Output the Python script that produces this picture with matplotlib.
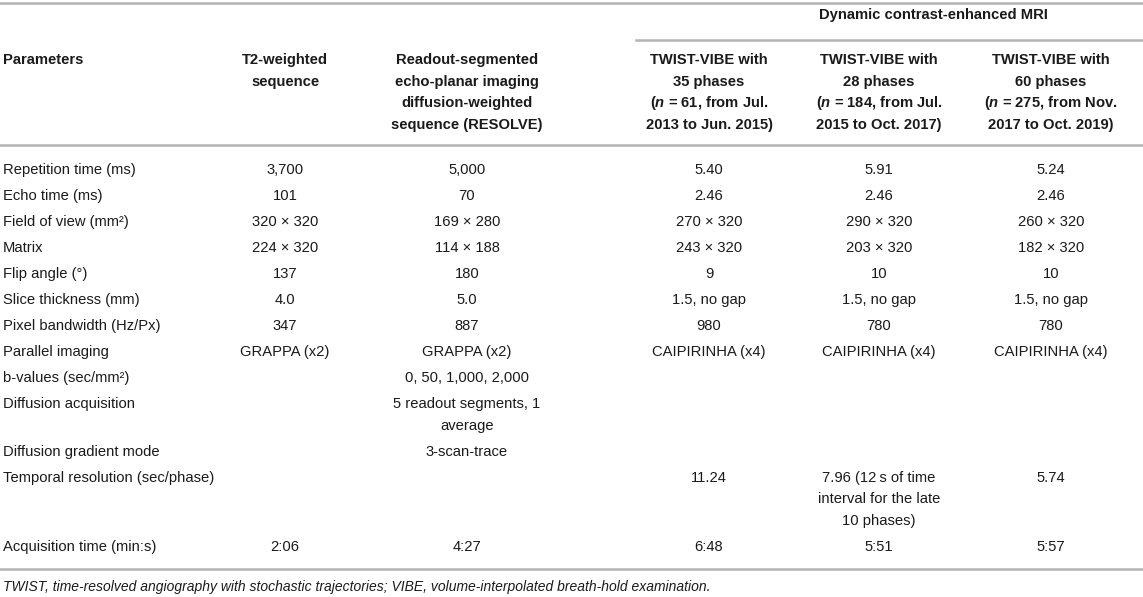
import matplotlib
matplotlib.use("Agg")
from matplotlib import pyplot as plt

plt.rcParams['font.family'] = ['Liberation Sans', 'DejaVu Sans']
plt.rcParams['mathtext.fontset'] = 'custom'
plt.rcParams['mathtext.rm'] = 'Liberation Sans'
plt.rcParams['mathtext.bfit'] = 'Liberation Sans:bold:italic'
plt.rcParams['mathtext.it'] = 'Liberation Sans:italic'

# table content
group_title = "Dynamic contrast-enhanced MRI"

col_headers = [
    "Parameters",
    "T2-weighted\nsequence",
    "Readout-segmented\necho-planar imaging\ndiffusion-weighted\nsequence (RESOLVE)",
    "TWIST-VIBE with\n35 phases\n($\\mathbfit{n}$ = 61, from Jul.\n2013 to Jun. 2015)",
    "TWIST-VIBE with\n28 phases\n($\\mathbfit{n}$ = 184, from Jul.\n2015 to Oct. 2017)",
    "TWIST-VIBE with\n60 phases\n($\\mathbfit{n}$ = 275, from Nov.\n2017 to Oct. 2019)",
]

params = [
    "Repetition time (ms)",
    "Echo time (ms)",
    "Field of view (mm²)",
    "Matrix",
    "Flip angle (°)",
    "Slice thickness (mm)",
    "Pixel bandwidth (Hz/Px)",
    "Parallel imaging",
    "b-values (sec/mm²)",
    "Diffusion acquisition",
    "Diffusion gradient mode",
    "Temporal resolution (sec/phase)",
    "Acquisition time (min:s)",
]
t2 = ["3,700", "101", "320 × 320", "224 × 320", "137", "4.0", "347",
      "GRAPPA (x2)", "", "", "", "", "2:06"]
resolve = ["5,000", "70", "169 × 280", "114 × 188", "180", "5.0", "887",
           "GRAPPA (x2)", "0, 50, 1,000, 2,000",
           "5 readout segments, 1\naverage", "3-scan-trace", "", "4:27"]
tw35 = ["5.40", "2.46", "270 × 320", "243 × 320", "9", "1.5, no gap", "980",
        "CAIPIRINHA (x4)", "", "", "", "11.24", "6:48"]
tw28 = ["5.91", "2.46", "290 × 320", "203 × 320", "10", "1.5, no gap", "780",
        "CAIPIRINHA (x4)", "", "", "",
        "7.96 (12\u2009s of time\ninterval for the late\n10 phases)", "5:51"]
tw60 = ["5.24", "2.46", "260 × 320", "182 × 320", "10", "1.5, no gap", "780",
        "CAIPIRINHA (x4)", "", "", "", "5.74", "5:57"]

footnote = ("TWIST, time-resolved angiography with stochastic trajectories; "
            "VIBE, volume-interpolated breath-hold examination.")

W, H = 1143, 597
fig = plt.figure(figsize=(W / 100, H / 100), dpi=100)
ax = fig.add_axes([0, 0, 1, 1])
ax.set_xlim(0, W)
ax.set_ylim(H, 0)
ax.axis("off")

txt = "#1a1a1a"
rule = "#b4b4b4"
fs = 10.6
line_h = 21.7
row_gap = 26

col_x = [3, 285, 467, 709, 879, 1051]

# rules
ax.plot([0, W], [3, 3], color=rule, lw=1.8)
ax.plot([636, W], [40, 40], color=rule, lw=1.8)
ax.plot([0, W], [145, 145], color=rule, lw=1.8)

ax.text(933, 15, group_title, ha="center", va="center", fontsize=fs,
        fontweight="bold", color=txt)

head_y = 60
for i, h in enumerate(col_headers):
    for k, ln in enumerate(h.split("\n")):
        ax.text(col_x[i], head_y + k * line_h, ln,
                ha="left" if i == 0 else "center", va="center",
                fontsize=fs, fontweight="bold", color=txt)

columns = [params, t2, resolve, tw35, tw28, tw60]
y = 170
for r in range(len(params)):
    nlines = max(len(c[r].split("\n")) for c in columns)
    for i, c in enumerate(columns):
        for k, ln in enumerate(c[r].split("\n")):
            if ln == "":
                continue
            ax.text(col_x[i], y + k * line_h, ln,
                    ha="left" if i == 0 else "center", va="center",
                    fontsize=fs, color=txt)
    last = y + (nlines - 1) * line_h
    y = last + row_gap

ax.plot([0, W], [569, 569], color=rule, lw=1.8)
ax.text(3, 587, footnote, ha="left", va="center", fontsize=fs - 0.6,
        style="italic", color=txt)

fig.savefig("out.png", dpi=100)
